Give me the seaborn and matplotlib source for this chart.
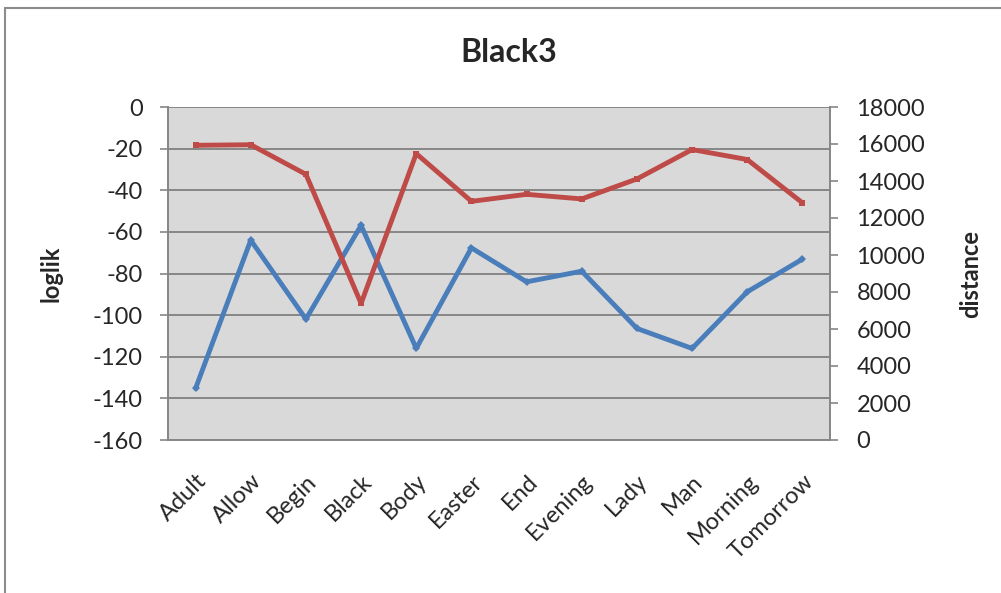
import matplotlib
matplotlib.use("Agg")
import matplotlib.pyplot as plt
import matplotlib.transforms as mtransforms
import seaborn as sns
import pandas as pd
from matplotlib.patches import Rectangle

words = ["Adult", "Allow", "Begin", "Black", "Body", "Easter", "End",
         "Evening", "Lady", "Man", "Morning", "Tomorrow"]
loglik = [-135.2, -64.0, -101.9, -56.9, -116.0, -67.7, -84.0,
          -78.9, -106.4, -116.0, -88.8, -73.1]
distance = [15930, 15960, 14360, 7380, 15480, 12900, 13280,
            13030, 14110, 15700, 15160, 12820]
left_ticks = [0, -20, -40, -60, -80, -100, -120, -140, -160]
right_ticks = [0, 2000, 4000, 6000, 8000, 10000, 12000, 14000, 16000, 18000]

sns.set_style("white")
plt.rcParams["font.family"] = ["Lato", "DejaVu Sans"]

df = pd.DataFrame({"word": words, "pos": range(len(words)),
                   "loglik": loglik, "distance": distance})

fig = plt.figure(figsize=(10.01, 5.93), dpi=100)
fig.patch.set_facecolor("white")
fig.patches.append(Rectangle((5 / 1001, -0.1), 1.2, 1 - 8 / 593 + 0.1,
                             transform=fig.transFigure, fill=False,
                             edgecolor="#8c8c8c", linewidth=1.5))

ax = fig.add_axes([168 / 1001, 1 - 440 / 593, (830 - 168) / 1001, (440 - 107) / 593])
ax.set_facecolor("#d9d9d9")
grid_c = "#868686"
fs = 17

sns.lineplot(data=df, x="pos", y="loglik", ax=ax, color="#4a7ebb",
             linewidth=3.5, marker="D", markersize=4, markeredgewidth=0,
             zorder=3)
ax.set_ylim(-160, 0)
ax.set_xlim(-0.5, len(words) - 0.5)
ax.set_yticks(left_ticks)
ax.set_yticklabels([str(t) for t in left_ticks], fontsize=fs)
ax.set_xticks(range(len(words)))
ax.set_xticklabels(words, rotation=45, ha="right", va="top",
                   rotation_mode="anchor", fontsize=fs)
shift = mtransforms.ScaledTranslation(-6 / 72, 0, fig.dpi_scale_trans)
for lbl in ax.get_xticklabels():
    lbl.set_transform(lbl.get_transform() + shift)
ax.tick_params(axis="x", length=0, pad=22)
ax.tick_params(axis="y", direction="out", length=6, width=1.2, color=grid_c, pad=12)
ax.yaxis.grid(True, color=grid_c, linewidth=1.4)
ax.set_axisbelow(True)
for s in ["top", "right"]:
    ax.spines[s].set_visible(False)
for s in ["left", "bottom"]:
    ax.spines[s].set_color(grid_c)
    ax.spines[s].set_linewidth(1.4)
ax.set_xlabel("")
ax.set_ylabel("loglik", fontsize=fs, fontweight="bold")
ax.yaxis.set_label_coords((62 - 168) / 662, 0.5)

ax2 = ax.twinx()
sns.lineplot(data=df, x="pos", y="distance", ax=ax2, color="#be4b48",
             linewidth=3.5, marker="s", markersize=4.5, markeredgewidth=0,
             zorder=3)
ax2.set_ylim(0, 18000)
ax2.set_yticks(right_ticks)
ax2.set_yticklabels([str(t) for t in right_ticks], fontsize=fs)
ax2.tick_params(axis="y", direction="out", length=6, width=1.2, color=grid_c, pad=13)
for s in ["top", "left", "bottom"]:
    ax2.spines[s].set_visible(False)
ax2.spines["right"].set_color(grid_c)
ax2.spines["right"].set_linewidth(1.4)
ax2.set_ylabel("distance", fontsize=fs, fontweight="bold")
ax2.yaxis.set_label_coords((959 - 168) / 662, 0.5)
ax2.set_xlabel("")

fig.text(509 / 1001, 1 - 52 / 593, "Black3", ha="center", va="center",
         fontsize=23, fontweight="bold")

fig.savefig("out.png", dpi=100)
